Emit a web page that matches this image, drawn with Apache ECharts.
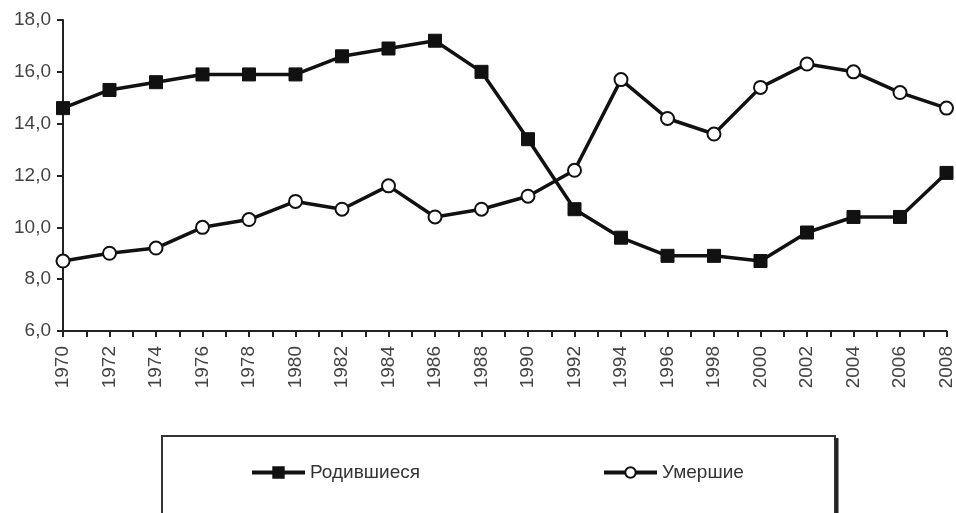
<!DOCTYPE html>
<html>
<head>
<meta charset="utf-8">
<script src="https://cdn.jsdelivr.net/npm/echarts@6/dist/echarts.min.js"></script>
<style>
html,body{margin:0;padding:0;background:#fff;}
#chart{width:956px;height:513px;}
</style>
</head>
<body>
<div id="chart"></div>
<script>
const years = [1970,1972,1974,1976,1978,1980,1982,1984,1986,1988,1990,1992,1994,1996,1998,2000,2002,2004,2006,2008];
const births = [14.6,15.3,15.6,15.9,15.9,15.9,16.6,16.9,17.2,16.0,13.4,10.7,9.6,8.9,8.9,8.7,9.8,10.4,10.4,12.1];
const deaths = [8.7,9.0,9.2,10.0,10.3,11.0,10.7,11.6,10.4,10.7,11.2,12.2,15.7,14.2,13.6,15.4,16.3,16.0,15.2,14.6];
const seriesNames = ['Родившиеся','Умершие'];

const chart = echarts.init(document.getElementById('chart'));
const font = 'Liberation Sans, Arial, sans-serif';
const legendText = {fontFamily: font, fontSize: 19, color: '#333'};
const legendBase = {itemWidth: 53, itemHeight: 13, itemGap: 0, padding: 0, top: 463,
  textStyle: legendText, lineStyle: {width: 4, color: '#111'}};
chart.setOption({
  animation: false,
  backgroundColor: '#fff',
  grid: {left: 63, right: 8, top: 20, bottom: 182, containLabel: false},
  xAxis: {
    type: 'value', min: 1970, max: 2008, interval: 2,
    axisLine: {show: true, lineStyle: {color: '#222', width: 2}},
    axisTick: {show: true, length: 6, lineStyle: {color: '#222', width: 2}},
    minorTick: {show: true, splitNumber: 2, length: 6, lineStyle: {color: '#222', width: 2}},
    splitLine: {show: false},
    axisLabel: {rotate: 90, margin: 15, fontFamily: font, fontSize: 19, color: '#444',
      formatter: v => String(v)}
  },
  yAxis: {
    type: 'value', min: 6, max: 18, interval: 2,
    axisLine: {show: true, lineStyle: {color: '#222', width: 2}},
    axisTick: {show: true, length: 6, lineStyle: {color: '#222', width: 2}},
    splitLine: {show: false},
    axisLabel: {margin: 12, fontFamily: font, fontSize: 19, color: '#444',
      formatter: v => v.toFixed(1).replace('.', ',')}
  },
  graphic: [
    {type: 'rect', shape: {x: 162, y: 436, width: 673, height: 90},
     style: {fill: '#fff', stroke: '#333', lineWidth: 2}, z: -1},
    {type: 'line', shape: {x1: 837, y1: 438, x2: 837, y2: 513},
     style: {stroke: '#222', lineWidth: 3}, z: -1}
  ],
  legend: [
    Object.assign({data: [seriesNames[0]], left: 250}, legendBase),
    Object.assign({data: [seriesNames[1]], left: 602}, legendBase)
  ],
  series: [
    {name: seriesNames[0], type: 'line',
     data: years.map((y, i) => [y, births[i]]),
     symbol: 'rect', symbolSize: 13,
     lineStyle: {color: '#111', width: 3.5},
     itemStyle: {color: '#111', borderColor: '#111', borderWidth: 1}},
    {name: seriesNames[1], type: 'line',
     data: years.map((y, i) => [y, deaths[i]]),
     symbol: 'circle', symbolSize: 13,
     lineStyle: {color: '#111', width: 3.5},
     itemStyle: {color: '#fff', borderColor: '#111', borderWidth: 2}}
  ]
});
</script>
</body>
</html>
